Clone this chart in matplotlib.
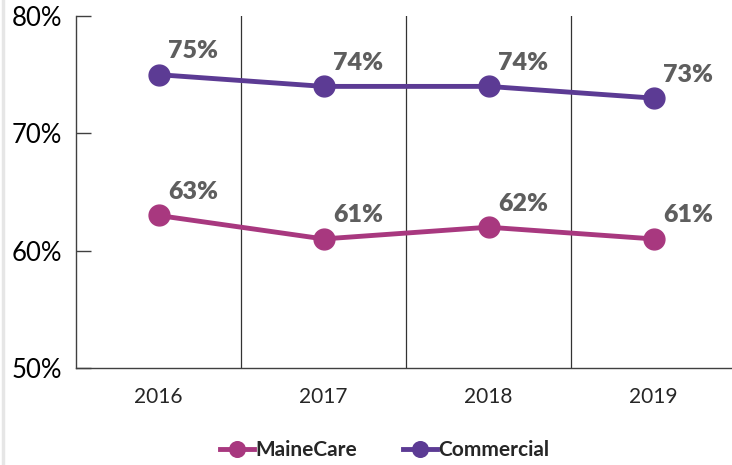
import matplotlib.pyplot as plt
from matplotlib.lines import Line2D

plt.rcParams['font.family'] = ['Lato', 'DejaVu Sans']

years = ["2016", "2017", "2018", "2019"]
mainecare = [63, 61, 62, 61]
commercial = [75, 74, 74, 73]

c_maine = "#a8387f"
c_comm = "#5c3b94"

fig = plt.figure(figsize=(7.32, 4.65), dpi=100)
ax = fig.add_axes([76 / 732, 1 - 368 / 465, 1 - 76 / 732, (368 - 16) / 465])

x = range(len(years))
ax.plot(x, mainecare, color=c_maine, lw=3.5, marker="o", ms=15, label="MaineCare")
ax.plot(x, commercial, color=c_comm, lw=3.5, marker="o", ms=15, label="Commercial")

for series in (mainecare, commercial):
    for i, v in enumerate(series):
        ax.annotate(f"{v}%", (i, v), xytext=(7, 9), textcoords="offset points",
                    ha="left", va="bottom", fontsize=18, fontweight="heavy", color="#5e5e5e")

# category separators
for b in (0.5, 1.5, 2.5):
    ax.axvline(b, color="#333333", lw=0.9, zorder=0)

ax.set_xlim(-0.5, 3.5 - 4 / 165)
ax.set_ylim(50, 80)
ax.set_yticks([50, 60, 70, 80])
ax.set_yticklabels([f"{t}%" for t in [50, 60, 70, 80]], fontsize=18.5, color="black")
ax.set_xticks(list(x))
ax.set_xticklabels(years, fontsize=15, color="#262626")
ax.tick_params(axis="y", direction="in", length=11, width=1, color="#404040", pad=10)
ax.tick_params(axis="x", length=0, pad=14)

for s in ("top", "right"):
    ax.spines[s].set_visible(False)
for s in ("left", "bottom"):
    ax.spines[s].set_color("#404040")
    ax.spines[s].set_linewidth(1)

leg = fig.legend(loc="center", bbox_to_anchor=(385 / 732, 1 - 450 / 465), ncol=2,
                 frameon=False, handlelength=1.6, handletextpad=0.1, columnspacing=2.2,
                 markerscale=0.75, prop={"weight": "bold", "size": 15})
for t in leg.get_texts():
    t.set_color("#262626")

fig.add_artist(Line2D([3 / 732, 3 / 732], [0, 1], color="#e6e6e6", lw=2.5, transform=fig.transFigure))

fig.savefig("out.png", dpi=100)
